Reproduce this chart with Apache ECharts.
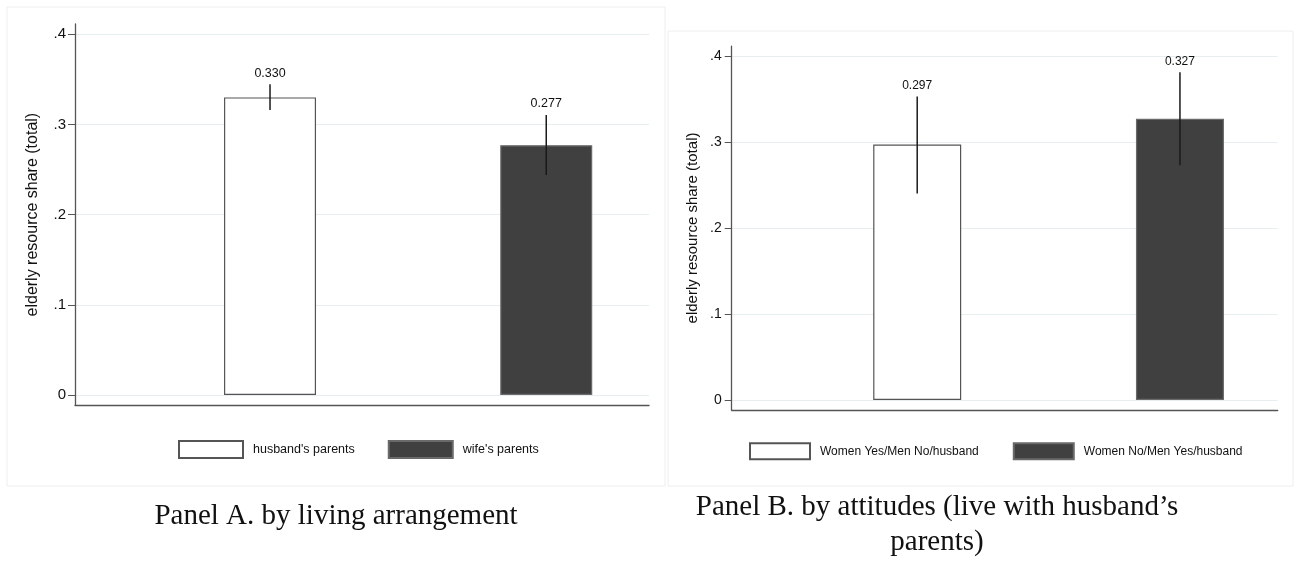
<!DOCTYPE html>
<html>
<head>
<meta charset="utf-8">
<script src="https://cdn.jsdelivr.net/npm/echarts@6/dist/echarts.min.js"></script>
<style>
  html, body { margin: 0; padding: 0; background: #ffffff; }
  #chart { width: 1301px; height: 561px; }
</style>
</head>
<body>
<div id="chart"></div>
<script>
// ---- data ----
const categoriesA = ["husband's parents", "wife's parents"];
const valuesA = [0.330, 0.277];
const ciLowA = [0.316, 0.244];
const ciHighA = [0.3445, 0.3105];

const categoriesB = ["Women Yes/Men No/husband", "Women No/Men Yes/husband"];
const valuesB = [0.297, 0.327];
const ciLowB = [0.240, 0.273];
const ciHighB = [0.353, 0.381];

const yTicks = [0, 0.1, 0.2, 0.3, 0.4];
const yTickLabels = ["0", ".1", ".2", ".3", ".4"];
const yTitle = "elderly resource share (total)";
const captionA = "Panel A. by living arrangement";
const captionB = ["Panel B. by attitudes (live with husband\u2019s", "parents)"];

// ---- styles ----
const barFills = ["#ffffff", "#404040"];
const barBorders = ["#555555", "#6a6a6a"];
const SANS = '"Liberation Sans", Arial, sans-serif';
const SERIF = '"Liberation Serif", "Times New Roman", serif';

function tickLabel(v) {
  const i = yTicks.findIndex(t => Math.abs(t - v) < 1e-9);
  return i >= 0 ? yTickLabels[i] : '';
}

function yAxisCfg(gridIndex, fontSize, nameSize, nameGap, margin) {
  return {
    type: 'value', gridIndex: gridIndex,
    min: -0.0115, max: 0.4115,
    name: yTitle, nameLocation: 'middle', nameRotate: 90, nameGap: nameGap,
    nameTextStyle: { fontFamily: SANS, fontSize: nameSize, color: '#111' },
    axisLine: { show: true, onZero: false, lineStyle: { color: '#555', width: 1.3 } },
    axisTick: { show: true, length: 7, customValues: yTicks, lineStyle: { color: '#555', width: 1 } },
    axisLabel: { customValues: yTicks, formatter: tickLabel, margin: margin,
      fontFamily: SANS, fontSize: fontSize, color: '#111' },
    splitLine: { show: true, lineStyle: { color: '#e6eef0', width: 1 } }
  };
}

function xAxisCfg(gridIndex) {
  return {
    type: 'value', gridIndex: gridIndex, min: 0.294, max: 2.372,
    axisLine: { show: true, onZero: false, lineStyle: { color: '#555', width: 1.3 } },
    axisTick: { show: false }, axisLabel: { show: false }, splitLine: { show: false }
  };
}

function barSeries(cats, vals, gridIndex, barWidth) {
  return cats.map((c, i) => ({
    type: 'bar', name: c, xAxisIndex: gridIndex, yAxisIndex: gridIndex,
    barWidth: barWidth, barGap: '-100%',
    data: [[i + 1, vals[i]]],
    itemStyle: { color: barFills[i], borderColor: barBorders[i], borderWidth: 1.2 },
    emphasis: { disabled: true }, z: 2
  }));
}

function errSeries(cats, vals, lo, hi, gridIndex, fontSize) {
  return {
    type: 'custom', xAxisIndex: gridIndex, yAxisIndex: gridIndex, z: 5, silent: true,
    data: cats.map((c, i) => [i + 1, lo[i], hi[i], vals[i]]),
    renderItem: function (params, api) {
      const x = api.value(0);
      const pHi = api.coord([x, api.value(2)]);
      const pLo = api.coord([x, api.value(1)]);
      return {
        type: 'group',
        children: [
          { type: 'line', shape: { x1: pHi[0], y1: pHi[1], x2: pLo[0], y2: pLo[1] },
            style: { stroke: '#1a1a1a', lineWidth: 1.5 } },
          { type: 'text', style: { text: api.value(3).toFixed(3), x: pHi[0], y: pHi[1] - 11,
            align: 'center', verticalAlign: 'middle',
            font: fontSize + 'px ' + SANS, fill: '#111' } }
        ]
      };
    }
  };
}

const chart = echarts.init(document.getElementById('chart'), null, { renderer: 'canvas' });
chart.setOption({
  backgroundColor: '#ffffff',
  animation: false,
  grid: [
    { left: 75, top: 23.9, width: 574, height: 381.5 },
    { left: 731.7, top: 46.1, width: 546, height: 363.8 }
  ],
  xAxis: [xAxisCfg(0), xAxisCfg(1)],
  yAxis: [yAxisCfg(0, 15, 16, 34, 9), yAxisCfg(1, 14, 15, 31, 10)],
  legend: [
    { data: categoriesA, left: 178, top: 440, padding: 0, icon: 'rect', itemWidth: 64, itemHeight: 17, itemGap: 33,
      selectedMode: false,
      textStyle: { fontFamily: SANS, fontSize: 12.5, color: '#111', padding: [0, 0, 0, 5] } },
    { data: categoriesB, left: 749, top: 442.3, padding: 0, icon: 'rect', itemWidth: 60, itemHeight: 16, itemGap: 34,
      selectedMode: false,
      textStyle: { fontFamily: SANS, fontSize: 12, color: '#111', padding: [0, 0, 0, 5] } }
  ],
  graphic: [
    { type: 'rect', shape: { x: 7, y: 7, width: 658, height: 479 }, silent: true,
      style: { fill: 'none', stroke: '#eeeeee', lineWidth: 1 } },
    { type: 'rect', shape: { x: 668, y: 31, width: 625, height: 455 }, silent: true,
      style: { fill: 'none', stroke: '#eeeeee', lineWidth: 1 } },
    { type: 'text', silent: true,
      style: { text: captionA, x: 336, y: 516, align: 'center', verticalAlign: 'middle',
        font: '29px ' + SERIF, fill: '#111' } },
    { type: 'text', silent: true,
      style: { text: captionB[0], x: 937, y: 507, align: 'center', verticalAlign: 'middle',
        font: '29px ' + SERIF, fill: '#111' } },
    { type: 'text', silent: true,
      style: { text: captionB[1], x: 937, y: 542, align: 'center', verticalAlign: 'middle',
        font: '29px ' + SERIF, fill: '#111' } }
  ],
  series: [].concat(
    barSeries(categoriesA, valuesA, 0, 92),
    [errSeries(categoriesA, valuesA, ciLowA, ciHighA, 0, 12.5)],
    barSeries(categoriesB, valuesB, 1, 88),
    [errSeries(categoriesB, valuesB, ciLowB, ciHighB, 1, 12)]
  )
});
</script>
</body>
</html>
